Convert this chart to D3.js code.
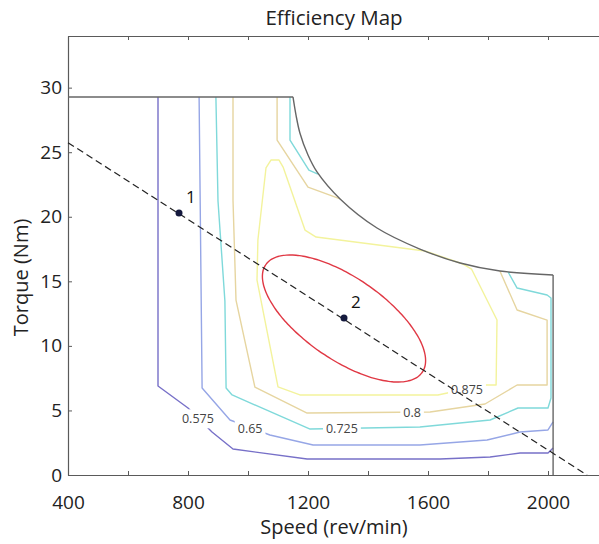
<!DOCTYPE html>
<html><head><meta charset="utf-8">
<script src="https://cdn.jsdelivr.net/npm/d3@7"></script>
<style>html,body{margin:0;padding:0;background:#fff;} svg{display:block;font-family:"Open Sans",sans-serif;}</style>
</head><body>
<svg id="chart" width="599" height="544"></svg>
<script>
// ---------- data ----------
const chartTitle = "Efficiency Map";
const xTitle = "Speed (rev/min)";
const yTitle = "Torque (Nm)";
const speedTicks = [400, 600, 800, 1000, 1200, 1400, 1600, 1800, 2000];
const speedLabels = [400, 800, 1200, 1600, 2000];
const torqueTicks = [0, 5, 10, 15, 20, 25, 30];

// operating-region boundary (speed, torque)
const boundaryTop = [[400, 29.28], [1150, 29.28]];
const boundaryCurve = [[1150, 29.28], [1160, 27.88], [1173, 26.49], [1200, 24.78], [1230, 23.47], [1307, 21.38], [1430, 19.13], [1573, 17.50], [1707, 16.42], [1840, 15.80], [2017, 15.49]];
const boundaryRight = [[2017, 15.49], [2017, 0]];

// contour levels
const levels = [0.575, 0.65, 0.725, 0.8, 0.875];
const levelColors = ["#7770c8", "#96a6e6", "#7fd9da", "#e6d5a0", "#f3f39c"];

const contour575 = [[700, 29.28], [700, 6.89], [800, 5.19], [880, 3.33], [950, 2.01], [1197, 1.24], [1640, 1.24], [1807, 1.39], [1907, 1.70], [2000, 1.70], [2017, 2.09]];
const contour650 = [[837, 29.28], [847, 6.74], [940, 4.26], [1073, 3.10], [1217, 2.32], [1573, 2.32], [1797, 2.71], [1907, 3.33], [2000, 3.49], [2017, 4.11]];
const contour725a = [[893, 29.28], [900, 21.22], [923, 13.48], [927, 6.74], [947, 6.20], [1207, 3.56], [1573, 3.72], [1807, 4.26], [1900, 5.19], [2000, 5.19], [2010, 5.96], [2010, 13.71], [1997, 13.94], [1897, 14.48], [1867, 15.72]];
const contour725b = [[1140, 29.28], [1140, 25.94], [1203, 23.62], [1233, 23.30]];
const contour800a = [[950, 29.28], [950, 21.30], [960, 13.55], [1023, 6.81], [1197, 4.80], [1607, 4.88], [1790, 5.50], [1897, 6.97], [1997, 6.97], [1997, 12.00], [1897, 12.78], [1840, 15.78]];
const contour800b = [[1097, 29.28], [1097, 25.94], [1200, 22.30], [1307, 21.38]];
const contour875 = [[1590, 17.35], [1227, 18.43], [1190, 18.97], [1117, 23.85], [1103, 24.40], [1077, 24.40], [1060, 23.78], [1033, 18.20], [1030, 15.10], [1100, 6.82], [1173, 6.20], [1633, 6.20], [1790, 6.97], [1827, 6.97], [1830, 12.00], [1745, 15.95], [1720, 16.30], [1707, 16.42], [1590, 17.35]];

const contourSets = [
  {level: 0.575, lines: [contour575]},
  {level: 0.65, lines: [contour650]},
  {level: 0.725, lines: [contour725a, contour725b]},
  {level: 0.8, lines: [contour800a, contour800b]},
  {level: 0.875, lines: [contour875]}
];

// contour label positions (speed, torque)
const labelText = ["0.575", "0.65", "0.725", "0.8", "0.875"];
const labelSpeed = [833, 1007, 1313, 1547, 1730];
const labelTorque = [4.34, 3.56, 3.56, 4.80, 6.58];

// max-efficiency ellipse: centre, radii (speed, torque), phase (deg)
const ellipseCenter = [1320, 12.12];
const ellipseRadii = [272, 4.92];
const ellipsePhase = 48.6;

// load line and operating points
const loadLine = [[400, 25.74], [2130, 0]];
const pointNames = ["1", "2"];
const pointSpeed = [770, 1320];
const pointTorque = [20.29, 12.16];

// ---------- drawing ----------
const svg = d3.select("#chart");
const x = d3.scaleLinear().domain([400, 2200]).range([68, 608]);
const y = d3.scaleLinear().domain([0, 34]).range([475, 36]);

const axisColor = "#5a5a5a";
const textColor = "#222";

// axes
const gx = svg.append("g").attr("transform", `translate(0,${y(0)})`)
  .call(d3.axisBottom(x).tickValues(speedTicks).tickSizeInner(-4).tickSizeOuter(0).tickPadding(21)
    .tickFormat(d => speedLabels.includes(d) ? d : ""));
const gxt = svg.append("g").attr("transform", `translate(0,${y(34)})`)
  .call(d3.axisTop(x).tickValues(speedTicks).tickSizeInner(-4).tickSizeOuter(0).tickFormat(""));
const gy = svg.append("g").attr("transform", `translate(${x(400)},0)`)
  .call(d3.axisLeft(y).tickValues(torqueTicks).tickSizeInner(-4).tickSizeOuter(0).tickPadding(6));
[gx, gxt, gy].forEach(g => {
  g.select(".domain").attr("stroke", axisColor).attr("stroke-width", 1.2);
  g.selectAll(".tick line").attr("stroke", axisColor);
  g.selectAll(".tick text").attr("fill", textColor).style("font-size", "19px").style("font-family", "Open Sans");
});
gx.selectAll(".tick text").attr("dy", "0.71em");

// title and axis labels
svg.append("text").attr("x", 334).attr("y", 25).attr("text-anchor", "middle")
  .style("font-size", "20.5px").attr("fill", textColor).text(chartTitle);
svg.append("text").attr("x", 334).attr("y", 534).attr("text-anchor", "middle")
  .style("font-size", "20px").attr("fill", textColor).text(xTitle);
svg.append("text").attr("transform", `translate(28,${y(15.3)}) rotate(-90)`).attr("text-anchor", "middle")
  .style("font-size", "20px").attr("fill", textColor).text(yTitle);

// contours
const line = d3.line().x(d => x(d[0])).y(d => y(d[1]));
const gc = svg.append("g");
contourSets.forEach(cs => {
  const col = levelColors[levels.indexOf(cs.level)];
  cs.lines.forEach(pts => {
    gc.append("path").attr("d", line(pts)).attr("fill", "none")
      .attr("stroke", col).attr("stroke-width", 1.4).attr("stroke-linejoin", "round");
  });
});

// contour labels
const gl = svg.append("g");
labelText.forEach((t, i) => {
  const g = gl.append("g").attr("transform", `translate(${x(labelSpeed[i])},${y(labelTorque[i])})`);
  const tx = g.append("text").attr("text-anchor", "middle").attr("dy", "0.35em")
    .style("font-size", "12.5px").attr("fill", "#444").text(t);
  const bb = tx.node().getBBox();
  g.insert("rect", "text").attr("x", bb.x - 3).attr("y", bb.y - 1).attr("width", bb.width + 6).attr("height", bb.height + 2).attr("fill", "#fff");
});

// boundary
const gb = svg.append("g").attr("fill", "none").attr("stroke", "#666").attr("stroke-width", 1.4);
gb.append("path").attr("d", line(boundaryTop));
gb.append("path").attr("d", d3.line().x(d => x(d[0])).y(d => y(d[1])).curve(d3.curveCatmullRom.alpha(0.5))(boundaryCurve));
gb.append("path").attr("d", line(boundaryRight));

// ellipse
const ellPts = d3.range(0, 360, 3).map(a => {
  const t = a * Math.PI / 180;
  const ph = ellipsePhase * Math.PI / 180;
  return [ellipseCenter[0] + ellipseRadii[0] * Math.cos(t), ellipseCenter[1] - ellipseRadii[1] * Math.cos(t - ph)];
});
svg.append("path").attr("d", d3.line().x(d => x(d[0])).y(d => y(d[1])).curve(d3.curveCardinalClosed)(ellPts))
  .attr("fill", "none").attr("stroke", "#e03844").attr("stroke-width", 1.4);

// load line
svg.append("path").attr("d", line(loadLine)).attr("fill", "none").attr("stroke", "#222")
  .attr("stroke-width", 1.2).attr("stroke-dasharray", "7,4");

// points
pointNames.forEach((n, i) => {
  svg.append("circle").attr("cx", x(pointSpeed[i])).attr("cy", y(pointTorque[i])).attr("r", 3.5).attr("fill", "#151a3e");
  svg.append("text").attr("x", x(pointSpeed[i]) + 7).attr("y", y(pointTorque[i]) - 10)
    .style("font-size", "17px").attr("fill", "#111").text(n);
});
</script>
</body></html>
